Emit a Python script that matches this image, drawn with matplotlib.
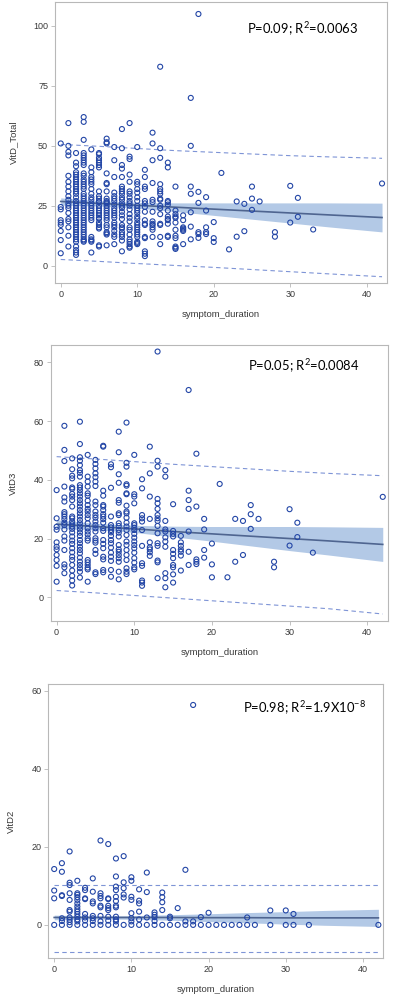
import matplotlib
matplotlib.use('Agg')
import matplotlib.pyplot as plt
import numpy as np

plt.rcParams['font.family'] = ['Liberation Sans', 'DejaVu Sans']
plt.rcParams['mathtext.fontset'] = 'custom'
plt.rcParams['mathtext.rm'] = 'Lato'
plt.rcParams['mathtext.it'] = 'Lato'

# VitD_Total vs symptom_duration, y values per day column
total_cols = {
    0: [51, 24.5, 23.5, 19, 18, 17, 14.5, 10.7, 5.2],
    1: [59.5, 50, 47.5, 46, 37.5, 35, 33, 31, 29, 27.5, 26, 25, 24, 22, 19.5, 18.5, 16, 12.5, 8],
    2: [47, 43, 41.5, 39, 38, 37, 36, 35, 34, 33, 32, 31, 30, 28.5, 27, 26, 25, 24, 23, 22, 21,
        20, 19, 18, 17, 16, 15, 14, 13, 12, 11, 10, 8, 6.5, 5.5, 4.5],
    3: [62, 60, 52.5, 47, 46, 45, 44, 43, 42, 38.5, 37.5, 36, 35, 34, 33, 32, 30, 29, 28, 27, 26,
        25, 24, 23, 22, 21, 20, 19, 18, 17, 16, 15, 14, 13, 12, 11, 10.5, 10],
    4: [48.5, 41, 39, 37, 36, 35, 34, 32, 30, 28.5, 27.5, 26, 25, 24, 23, 22, 21, 20, 19, 12, 11,
        10.5, 10, 5.5],
    5: [47, 46.5, 45, 44, 43, 42, 41, 31, 29, 28, 27, 26.5, 25, 24, 23, 22, 21, 20, 19.5, 18, 17,
        16, 15.5, 8.5, 8],
    6: [53, 51.5, 51, 38.5, 34.5, 34, 31, 28, 27, 26.5, 26, 25, 24, 23, 22, 21, 20, 19, 17, 16,
        14, 13.5, 13, 8.5],
    7: [49.5, 44, 37, 30.5, 29, 28, 27, 25.5, 24, 23, 22, 21, 20, 18, 17, 16, 14.5, 13, 12, 9],
    8: [57, 49, 42, 40.5, 37, 33, 32, 31, 30, 28.5, 27.5, 26, 25, 24, 22.5, 21, 19.5, 17, 16,
        15.5, 14, 13, 12, 10.5, 6],
    9: [59.5, 45.5, 44.5, 38, 35, 31, 30, 28.5, 27, 26, 25, 23.5, 21.5, 20, 18.5, 16, 15, 13, 11,
        10, 9, 8, 7.5],
    10: [49.5, 35, 34, 32, 30.5, 28.5, 27, 25, 24, 23, 22, 20.5, 19.5, 18, 17, 16, 15, 14, 13,
         12, 10, 9.5, 9],
    11: [40, 37, 33, 32, 27, 26, 24.5, 22.5, 19, 17.5, 17, 12, 11.5, 6, 5, 4],
    12: [55.5, 51, 44, 34.5, 27.5, 26.5, 22.5, 18.5, 17.5, 17, 16, 15, 12],
    13: [83, 49, 45, 34, 32, 31, 30, 28, 27.5, 25, 24, 21.5, 17.5, 17, 12, 9],
    14: [43, 41, 27, 26.5, 25.5, 23, 20.5, 19.5, 19, 17.5, 12.5, 12],
    15: [33, 23, 21.5, 20.5, 20, 18, 15, 12.5, 11.5, 8, 7.5, 7],
    16: [21, 19, 16, 15.5, 15, 14.5, 9],
    17: [70, 50, 33, 30, 22.3, 16.3, 11],
    18: [105, 30.8, 26.2, 14, 13.2, 11.6],
    19: [28.6, 23, 16, 14, 13.2],
    20: [18.2, 11.5, 9.9],
    21: [38.7],
    22: [6.8],
    23: [26.8, 12.1],
    24: [25.8, 14.4],
    25: [33, 28, 23.3],
    26: [26.8],
    28: [14, 12.1],
    30: [33.3, 18],
    31: [28.3, 20.4],
    33: [15.1],
    42: [34.3],
}

# VitD3 vs symptom_duration
d3_cols = {
    0: [36.5, 26.9, 24, 23, 18.7, 17.2, 16.3, 14.4, 12.7, 10.7, 5.3],
    1: [58.4, 50.2, 46.4, 37.7, 34, 32.6, 29, 28.3, 27.5, 26.6, 25.4, 24.6, 23.1, 20.7, 19.3,
        16.1, 11.2, 10.2, 8.2],
    2: [47.3, 43.6, 41.4, 40.5, 37.4, 36.9, 35.2, 34.3, 33.1, 30.9, 27.5, 26.9, 25.8, 24.9, 24.1,
        23.3, 22.1, 20.7, 19.3, 18.2, 16.7, 15.3, 13.8, 12.7, 11, 9.1, 7.3, 5.7, 4],
    3: [59.8, 52.2, 47.7, 46.5, 45, 43.3, 42.4, 41.1, 38.2, 37.4, 36.5, 35.4, 34.3, 33.1, 32,
        30.9, 29.7, 28.6, 27.5, 26.3, 25.2, 24.1, 23.1, 22, 20.9, 19.5, 18.4, 17.2, 16.1, 15,
        13.5, 12.1, 11, 9.9, 8.7, 6.7],
    4: [48.5, 41.1, 39.4, 37.7, 35.4, 34.6, 32.9, 31.4, 30.1, 29.2, 28, 26.9, 25.2, 23.5, 22.4,
        21.4, 20.1, 19.3, 12.7, 11.9, 11, 10.1, 9.5, 5.3],
    5: [46.8, 45.4, 43.9, 42.2, 40.9, 39.4, 37.9, 32.6, 31.4, 29.2, 28, 27.1, 25.8, 24.6, 23.5,
        22.4, 20.1, 19.3, 18.6, 16.1, 14.8, 8.5, 7.9],
    6: [51.6, 51.3, 36.3, 34.6, 31.4, 30.9, 29.7, 28.3, 27.5, 26.6, 25.4, 23.5, 22.6, 19.5,
        18.2, 16.7, 13.8, 12.9, 9.3, 8.5],
    7: [45.3, 44.3, 37.3, 27.5, 24.6, 23.8, 22.9, 22.1, 20.9, 19.5, 18.4, 16.9, 15.2, 13.8,
        12.4, 9.3, 7],
    8: [56.4, 49.4, 41.9, 39, 33.1, 32.2, 28.6, 28, 25.2, 24.3, 22.9, 22, 20.7, 17.8, 16.3,
        15.5, 14.4, 13.3, 12.1, 8.7, 6.1],
    9: [59.5, 45.8, 44.5, 38.5, 38, 35.4, 35.1, 31.2, 29.2, 28.6, 27.1, 25.4, 24.1, 22.9, 21.2,
        19, 17.8, 16.1, 14.4, 12.7, 9.9, 8.7, 7.9],
    10: [48.5, 35.1, 34.3, 32, 25.2, 24.6, 23.7, 22.9, 21.6, 20.3, 19, 17.8, 16.7, 15.2, 13.3,
         11.8, 10.2, 9.5],
    11: [40.2, 37.1, 28, 26.9, 25.8, 22.9, 17.5, 11.6, 10.7, 5.7, 5, 3.9],
    12: [51.3, 42.2, 34.3, 26.7, 18.7, 17, 16.3, 15.3, 14.1],
    13: [83.7, 46.5, 44.5, 33.5, 32, 30.1, 28, 26.9, 26, 24.3, 21.8, 18.4, 17.5, 12.5, 11.9, 6.5],
    14: [43.3, 41.1, 26, 23.1, 22.4, 20.4, 19, 17.2, 8.2, 6.5, 3.4],
    15: [31.7, 22.6, 21.6, 20.7, 16.1, 14.8, 13.3, 11, 10.2, 7.8, 5],
    16: [20.9, 18.7, 17.5, 16.3, 15.5, 14.2, 9.1],
    17: [70.6, 36.3, 33.1, 30.1, 22.4, 15.5, 11],
    18: [48.9, 30.9, 12.9, 12.1, 11.3],
    19: [26.7, 23.1, 16.1, 13.5],
    20: [18.3, 11.2, 6.8],
    21: [38.6],
    22: [6.8],
    23: [26.7, 12.1],
    24: [26, 14.4],
    25: [31.4, 28.3, 23.3],
    26: [26.7],
    28: [12.1, 10.2],
    30: [30, 17.6],
    31: [25.4, 20.5],
    33: [15.2],
    42: [34.2],
}

# VitD2 vs symptom_duration
d2_cols = {
    0: [14.3, 8.8, 6.8, 0],
    1: [15.8, 13.6, 7.6, 7.4, 1.7, 1.0, 0],
    2: [18.8, 10.8, 10.2, 8.1, 6.4, 3.8, 3.4, 1.9, 1.3, 0.7, 0],
    3: [11.3, 8.1, 7.7, 7.1, 6.4, 5.5, 4.7, 4, 3.4, 2.8, 2.1, 1.4, 0.9, 0],
    4: [9.5, 8.9, 6.8, 6.6, 2.8, 1.9, 1.1, 0],
    5: [11.9, 8.5, 6, 5.5, 2.3, 1.7, 1, 0],
    6: [21.6, 8.1, 7.4, 6.8, 4.9, 4.5, 2.3, 0.9, 0],
    7: [20.7, 6.8, 6.6, 4.9, 4.3, 3.8, 2.1, 1.1, 0],
    8: [17, 12.4, 9.8, 8.9, 7.2, 6.1, 4.9, 4.5, 2.1, 1.4, 0.9, 0],
    9: [17.6, 10.9, 9.4, 7.8, 7, 0],
    10: [12.2, 11.3, 7.2, 6.4, 3, 1.7, 0.9, 0],
    11: [9.1, 6.2, 5.5, 3.4, 1.4, 0],
    12: [13.4, 8.4, 1.9, 0],
    13: [3.2, 2.6, 2.0, 1, 0],
    14: [8.3, 7.1, 5.8, 3.8, 0],
    15: [2.1, 1.7, 0],
    16: [4.3, 0],
    17: [14.1, 0.9, 0],
    18: [56.3, 0.9, 0],
    19: [2.0, 0],
    20: [3.1, 0],
    21: [0],
    22: [0],
    23: [0],
    24: [0],
    25: [1.9, 0],
    26: [0],
    28: [3.7, 0],
    30: [3.7, 0],
    31: [2.8, 0],
    33: [0],
    42: [0],
}

# regression fit, 95% confidence band and prediction limits read at these x
fit_x = [0, 5, 10, 15, 20, 25, 30, 35, 42]
total_fit = [26.8, 26.0, 25.2, 24.4, 23.6, 22.8, 22.0, 21.2, 20.1]
total_ci = [1.5, 1.1, 1.2, 1.8, 2.6, 3.4, 4.2, 5.0, 6.0]
total_pl_lo = [2.6, 1.8, 0.9, 0.1, -0.7, -1.6, -2.5, -3.4, -4.6]
total_pl_hi = [50.6, 49.8, 48.9, 48.0, 47.3, 46.6, 45.9, 45.4, 44.8]

d3_fit = [24.9, 24.1, 23.3, 22.4, 21.6, 20.8, 20.0, 19.2, 18.0]
d3_ci = [1.5, 1.1, 1.2, 1.8, 2.5, 3.3, 4.1, 4.8, 5.8]
d3_pl_lo = [2.3, 1.5, 0.6, -0.3, -1.2, -2.1, -3.0, -3.9, -5.7]
d3_pl_hi = [47.9, 47.1, 46.2, 45.3, 44.5, 43.7, 42.9, 42.2, 41.4]

d2_fit = [1.9, 1.9, 1.9, 1.9, 1.85, 1.85, 1.8, 1.8, 1.8]
d2_ci = [0.6, 0.4, 0.45, 0.7, 1.0, 1.3, 1.6, 1.9, 2.2]
d2_pl_lo = [-6.9] * 9
d2_pl_hi = [10.3] * 9

panels = [
    (total_cols, total_fit, total_ci, total_pl_lo, total_pl_hi, 'VitD_Total',
     [0, 25, 50, 75, 100], (-7.2, 110), 'P=0.09; R$^2$=0.0063',
     [0.1375, 0.7176, 0.83, 0.2804], (0.578, 0.935)),
    (d3_cols, d3_fit, d3_ci, d3_pl_lo, d3_pl_hi, 'VitD3',
     [0, 20, 40, 60, 80], (-8.1, 85.9), 'P=0.05; R$^2$=0.0084',
     [0.127, 0.3802, 0.8425, 0.2754], (0.585, 0.957)),
    (d2_cols, d2_fit, d2_ci, d2_pl_lo, d2_pl_hi, 'VitD2',
     [0, 20, 40, 60], (-8.4, 61.6), 'P=0.98; R$^2$=1.9X10$^{-8}$',
     [0.121, 0.0442, 0.8375, 0.2729], (0.58, 0.945)),
]

marker_col = '#2346a6'
band_col = '#b3c9e6'
line_col = '#4f6590'
pl_col = '#7e94d6'
frame_col = '#b8b8b8'
text_col = '#3a3a3a'

fig = plt.figure(figsize=(4.0, 10.02), dpi=100)

for cols, fit, ci, pl_lo, pl_hi, ylab, yticks, ylim, note, pos, npos in panels:
    ax = fig.add_axes(pos)
    fx = np.array(fit_x)
    fy = np.array(fit)
    hw = np.array(ci)
    ax.fill_between(fx, fy - hw, fy + hw, color=band_col, lw=0, zorder=1)
    ax.plot(fx, fy, color=line_col, lw=1.2, zorder=2)
    ax.plot(fx, pl_lo, color=pl_col, lw=0.8, ls=(0, (4, 3)), zorder=2)
    ax.plot(fx, pl_hi, color=pl_col, lw=0.8, ls=(0, (4, 3)), zorder=2)

    xs = []
    ys = []
    for k, vals in cols.items():
        xs += [k] * len(vals)
        ys += vals
    ax.scatter(xs, ys, s=13, facecolors='none', edgecolors=marker_col,
               linewidths=0.8, zorder=3)

    ax.set_xlim(-0.75, 42.65)
    ax.set_ylim(*ylim)
    ax.set_xticks([0, 10, 20, 30, 40])
    ax.set_yticks(yticks)
    ax.tick_params(labelsize=6.5, colors=text_col, length=3, width=0.6,
                   color=frame_col, pad=2)
    for sp in ax.spines.values():
        sp.set_color(frame_col)
        sp.set_linewidth(0.8)
    ax.set_xlabel('symptom_duration', fontsize=6.8, color=text_col, labelpad=8)
    ax.set_ylabel(ylab, fontsize=6.8, color=text_col, labelpad=11)
    ax.text(npos[0], npos[1], note, transform=ax.transAxes, fontsize=9.4,
            family='Lato', color='black', va='top', ha='left')

fig.savefig('out.png', dpi=100)
